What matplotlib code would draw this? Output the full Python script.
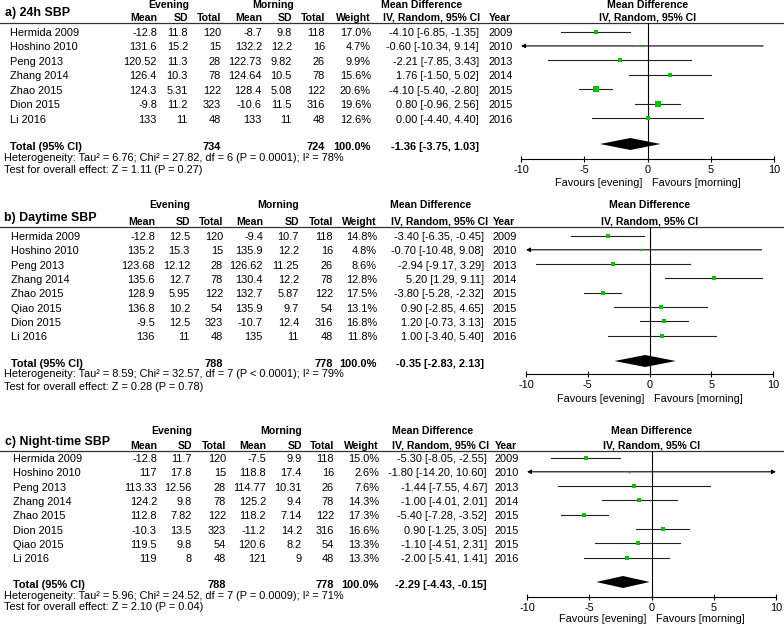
import matplotlib
matplotlib.use('Agg')
import matplotlib.pyplot as plt
from matplotlib.patches import Polygon

plt.rcParams['font.family'] = ['Liberation Sans', 'DejaVu Sans']
plt.rcParams['axes.unicode_minus'] = False

W, H = 784, 627
FS = 7.9
FS_HEAD = 7.6
GREEN = '#00c400'

# ---------------- data ----------------
a_title = 'a) 24h SBP'
a_studies = ['Hermida 2009', 'Hoshino 2010', 'Peng 2013', 'Zhang 2014', 'Zhao 2015', 'Dion 2015', 'Li 2016']
a_e_mean = [-12.8, 131.6, 120.52, 126.4, 124.3, -9.8, 133]
a_e_sd = [11.8, 15.2, 11.3, 10.3, 5.31, 11.2, 11]
a_e_n = [120, 15, 28, 78, 122, 323, 48]
a_m_mean = [-8.7, 132.2, 122.73, 124.64, 128.4, -10.6, 133]
a_m_sd = [9.8, 12.2, 9.82, 10.5, 5.08, 11.5, 11]
a_m_n = [118, 16, 26, 78, 122, 316, 48]
a_weight = [17.0, 4.7, 9.9, 15.6, 20.6, 19.6, 12.6]
a_md = [-4.10, -0.60, -2.21, 1.76, -4.10, 0.80, 0.00]
a_lo = [-6.85, -10.34, -7.85, -1.50, -5.40, -0.96, -4.40]
a_hi = [-1.35, 9.14, 3.43, 5.02, -2.80, 2.56, 4.40]
a_year = [2009, 2010, 2013, 2014, 2015, 2015, 2016]
a_total = [734, 724]
a_pooled = [-1.36, -3.75, 1.03]
a_het = 'Heterogeneity: Tau² = 6.76; Chi² = 27.82, df = 6 (P = 0.0001); I² = 78%'
a_test = 'Test for overall effect: Z = 1.11 (P = 0.27)'

b_title = 'b) Daytime SBP'
b_studies = ['Hermida 2009', 'Hoshino 2010', 'Peng 2013', 'Zhang 2014', 'Zhao 2015', 'Qiao 2015', 'Dion 2015', 'Li 2016']
b_e_mean = [-12.8, 135.2, 123.68, 135.6, 128.9, 136.8, -9.5, 136]
b_e_sd = [12.5, 15.3, 12.12, 12.7, 5.95, 10.2, 12.5, 11]
b_e_n = [120, 15, 28, 78, 122, 54, 323, 48]
b_m_mean = [-9.4, 135.9, 126.62, 130.4, 132.7, 135.9, -10.7, 135]
b_m_sd = [10.7, 12.2, 11.25, 12.2, 5.87, 9.7, 12.4, 11]
b_m_n = [118, 16, 26, 78, 122, 54, 316, 48]
b_weight = [14.8, 4.8, 8.6, 12.8, 17.5, 13.1, 16.8, 11.8]
b_md = [-3.40, -0.70, -2.94, 5.20, -3.80, 0.90, 1.20, 1.00]
b_lo = [-6.35, -10.48, -9.17, 1.29, -5.28, -2.85, -0.73, -3.40]
b_hi = [-0.45, 9.08, 3.29, 9.11, -2.32, 4.65, 3.13, 5.40]
b_year = [2009, 2010, 2013, 2014, 2015, 2015, 2015, 2016]
b_total = [788, 778]
b_pooled = [-0.35, -2.83, 2.13]
b_het = 'Heterogeneity: Tau² = 8.59; Chi² = 32.57, df = 7 (P < 0.0001); I² = 79%'
b_test = 'Test for overall effect: Z = 0.28 (P = 0.78)'

c_title = 'c) Night-time SBP'
c_studies = ['Hermida 2009', 'Hoshino 2010', 'Peng 2013', 'Zhang 2014', 'Zhao 2015', 'Dion 2015', 'Qiao 2015', 'Li 2016']
c_e_mean = [-12.8, 117, 113.33, 124.2, 112.8, -10.3, 119.5, 119]
c_e_sd = [11.7, 17.8, 12.56, 9.8, 7.82, 13.5, 9.8, 8]
c_e_n = [120, 15, 28, 78, 122, 323, 54, 48]
c_m_mean = [-7.5, 118.8, 114.77, 125.2, 118.2, -11.2, 120.6, 121]
c_m_sd = [9.9, 17.4, 10.31, 9.4, 7.14, 14.2, 8.2, 9]
c_m_n = [118, 16, 26, 78, 122, 316, 54, 48]
c_weight = [15.0, 2.6, 7.6, 14.3, 17.3, 16.6, 13.3, 13.3]
c_md = [-5.30, -1.80, -1.44, -1.00, -5.40, 0.90, -1.10, -2.00]
c_lo = [-8.05, -14.20, -7.55, -4.01, -7.28, -1.25, -4.51, -5.41]
c_hi = [-2.55, 10.60, 4.67, 2.01, -3.52, 3.05, 2.31, 1.41]
c_year = [2009, 2010, 2013, 2014, 2015, 2015, 2015, 2016]
c_total = [788, 778]
c_pooled = [-2.29, -4.43, -0.15]
c_het = 'Heterogeneity: Tau² = 5.96; Chi² = 24.52, df = 7 (P = 0.0009); I² = 71%'
c_test = 'Test for overall effect: Z = 2.10 (P = 0.04)'

ticks = [-10, -5, 0, 5, 10]

# ---------------- layout (pixels) ----------------
a_lay = dict(title=(5, 13), head1=5, head2=18, line=23, row0=33, dy=14.45, total=147,
             het=158, test=170, axis=159, xm=521, xp=774, fav=183, ev=169, mo=273, mdh=381, ivh=383,
             cols=dict(name=10, em=157, esd=188, en=221, mm=262, msd=292, mn=325, w=371, md=479, yr=489))
b_lay = dict(title=(4, 218), head1=205, head2=222, line=227, row0=237, dy=14.3, total=364,
             het=374, test=387, axis=374, xm=526, xp=773, fav=399, ev=170, mo=278, mdh=390, ivh=391,
             cols=dict(name=11, em=155, esd=190, en=223, mm=263, msd=299, mn=333, w=377, md=484, yr=493))
c_lay = dict(title=(5, 442), head1=431, head2=446, line=451, row0=459, dy=14.3, total=585,
             het=596, test=607, axis=597, xm=527, xp=776, fav=619, ev=172, mo=281, mdh=392, ivh=392,
             cols=dict(name=13, em=157, esd=192, en=226, mm=266, msd=302, mn=334, w=379, md=487, yr=495))


def fmt(v):
    return f'{v:g}'


def draw_panel(fig, bg, title, studies, e_mean, e_sd, e_n, m_mean, m_sd, m_n,
               weight, md, lo, hi, year, total, pooled, het, test, L):
    c = L['cols']
    n = len(studies)
    rows = [L['row0'] + L['dy'] * i for i in range(n)]
    zero_px = (L['xm'] + L['xp']) / 2
    kw = dict(fontsize=FS, va='center')
    bold = dict(fontsize=FS, va='center', fontweight='bold')
    head = dict(fontsize=FS_HEAD, va='center', fontweight='bold')

    # headers
    bg.text(L['title'][0], L['title'][1], title, fontsize=8.9, fontweight='bold', va='center')
    bg.text(L['ev'], L['head1'], 'Evening', ha='center', **head)
    bg.text(L['mo'], L['head1'], 'Morning', ha='center', **head)
    bg.text(L['mdh'], L['head1'], 'Mean Difference', ha='left', **head)
    bg.text(L['ivh'], L['head2'], 'IV, Random, 95% CI', ha='left', **head)
    bg.text(c['yr'], L['head2'], 'Year', ha='left', **head)
    for key, lab in zip(['em', 'esd', 'en', 'mm', 'msd', 'mn', 'w'],
                        ['Mean', 'SD', 'Total', 'Mean', 'SD', 'Total', 'Weight']):
        bg.text(c[key], L['head2'], lab, ha='right', **head)
    bg.text(zero_px, L['head1'], 'Mean Difference', ha='center', **head)
    bg.text(zero_px, L['head2'], 'IV, Random, 95% CI', ha='center', **head)
    bg.plot([0, W], [L['line'], L['line']], color='#333333', lw=0.9)

    # study rows
    for i, y in enumerate(rows):
        bg.text(c['name'], y, studies[i], ha='left', **kw)
        bg.text(c['em'], y, fmt(e_mean[i]), ha='right', **kw)
        bg.text(c['esd'], y, fmt(e_sd[i]), ha='right', **kw)
        bg.text(c['en'], y, str(e_n[i]), ha='right', **kw)
        bg.text(c['mm'], y, fmt(m_mean[i]), ha='right', **kw)
        bg.text(c['msd'], y, fmt(m_sd[i]), ha='right', **kw)
        bg.text(c['mn'], y, str(m_n[i]), ha='right', **kw)
        bg.text(c['w'], y, f'{weight[i]:.1f}%', ha='right', **kw)
        bg.text(c['md'], y, f'{md[i]:.2f} [{lo[i]:.2f}, {hi[i]:.2f}]', ha='right', **kw)
        bg.text(c['yr'], y, str(year[i]), ha='left', **kw)

    # totals
    ty = L['total']
    bg.text(c['name'], ty, 'Total (95% CI)', ha='left', **bold)
    bg.text(c['en'], ty, str(total[0]), ha='right', **bold)
    bg.text(c['mn'], ty, str(total[1]), ha='right', **bold)
    bg.text(c['w'], ty, '100.0%', ha='right', **bold)
    bg.text(c['md'], ty, f'{pooled[0]:.2f} [{pooled[1]:.2f}, {pooled[2]:.2f}]', ha='right', **bold)
    bg.text(4, L['het'], het, ha='left', **kw)
    bg.text(4, L['test'], test, ha='left', **kw)
    bg.text(zero_px - 5, L['fav'], 'Favours [evening]', ha='right', **kw)
    bg.text(zero_px + 5, L['fav'], 'Favours [morning]', ha='left', **kw)

    # forest
    ax = fig.add_axes([L['xm'] / W, 1 - L['axis'] / H, (L['xp'] - L['xm']) / W, (L['axis'] - L['line']) / H])
    ax.set_facecolor('none')
    ax.set_xlim(-10, 10)
    ax.set_ylim(L['axis'], L['line'])
    for s in ['top', 'left', 'right']:
        ax.spines[s].set_visible(False)
    ax.spines['bottom'].set_linewidth(0.8)
    ax.set_yticks([])
    ax.set_xticks(ticks)
    ax.set_xticklabels([str(t) for t in ticks])
    ax.tick_params(axis='x', direction='inout', length=5, width=0.8, pad=1.5, labelsize=FS)
    ax.axvline(0, color='black', lw=0.8)

    arrow = dict(lw=0.8, color='black', shrinkA=0, shrinkB=0, mutation_scale=6)
    for i, y in enumerate(rows):
        yy = y - 1.5
        l, h = max(lo[i], -10), min(hi[i], 10)
        if lo[i] < -10 and hi[i] > 10:
            ax.annotate('', xy=(10, yy), xytext=(-10, yy), annotation_clip=False,
                        arrowprops=dict(arrowstyle='<|-|>', **arrow))
        elif lo[i] < -10:
            ax.annotate('', xy=(-10, yy), xytext=(h, yy), annotation_clip=False,
                        arrowprops=dict(arrowstyle='-|>', **arrow))
        elif hi[i] > 10:
            ax.annotate('', xy=(10, yy), xytext=(l, yy), annotation_clip=False,
                        arrowprops=dict(arrowstyle='-|>', **arrow))
        else:
            ax.plot([l, h], [yy, yy], color='#222222', lw=0.8)
        side = 0.85 * weight[i] ** 0.5
        ax.plot(md[i], yy, marker='s', color=GREEN, markersize=side, markeredgewidth=0, zorder=5)

    dy = ty - 3
    est, plo, phi = pooled
    ax.add_patch(Polygon([(plo, dy), (est, dy - 6), (phi, dy), (est, dy + 6)],
                         closed=True, color='black', lw=0, zorder=4))
    return ax


fig = plt.figure(figsize=(W / 100, H / 100), dpi=100)
bg = fig.add_axes([0, 0, 1, 1])
bg.set_xlim(0, W)
bg.set_ylim(H, 0)
bg.axis('off')

draw_panel(fig, bg, a_title, a_studies, a_e_mean, a_e_sd, a_e_n, a_m_mean, a_m_sd, a_m_n,
           a_weight, a_md, a_lo, a_hi, a_year, a_total, a_pooled, a_het, a_test, a_lay)
draw_panel(fig, bg, b_title, b_studies, b_e_mean, b_e_sd, b_e_n, b_m_mean, b_m_sd, b_m_n,
           b_weight, b_md, b_lo, b_hi, b_year, b_total, b_pooled, b_het, b_test, b_lay)
draw_panel(fig, bg, c_title, c_studies, c_e_mean, c_e_sd, c_e_n, c_m_mean, c_m_sd, c_m_n,
           c_weight, c_md, c_lo, c_hi, c_year, c_total, c_pooled, c_het, c_test, c_lay)

fig.savefig('out.png', dpi=100, facecolor='white')
